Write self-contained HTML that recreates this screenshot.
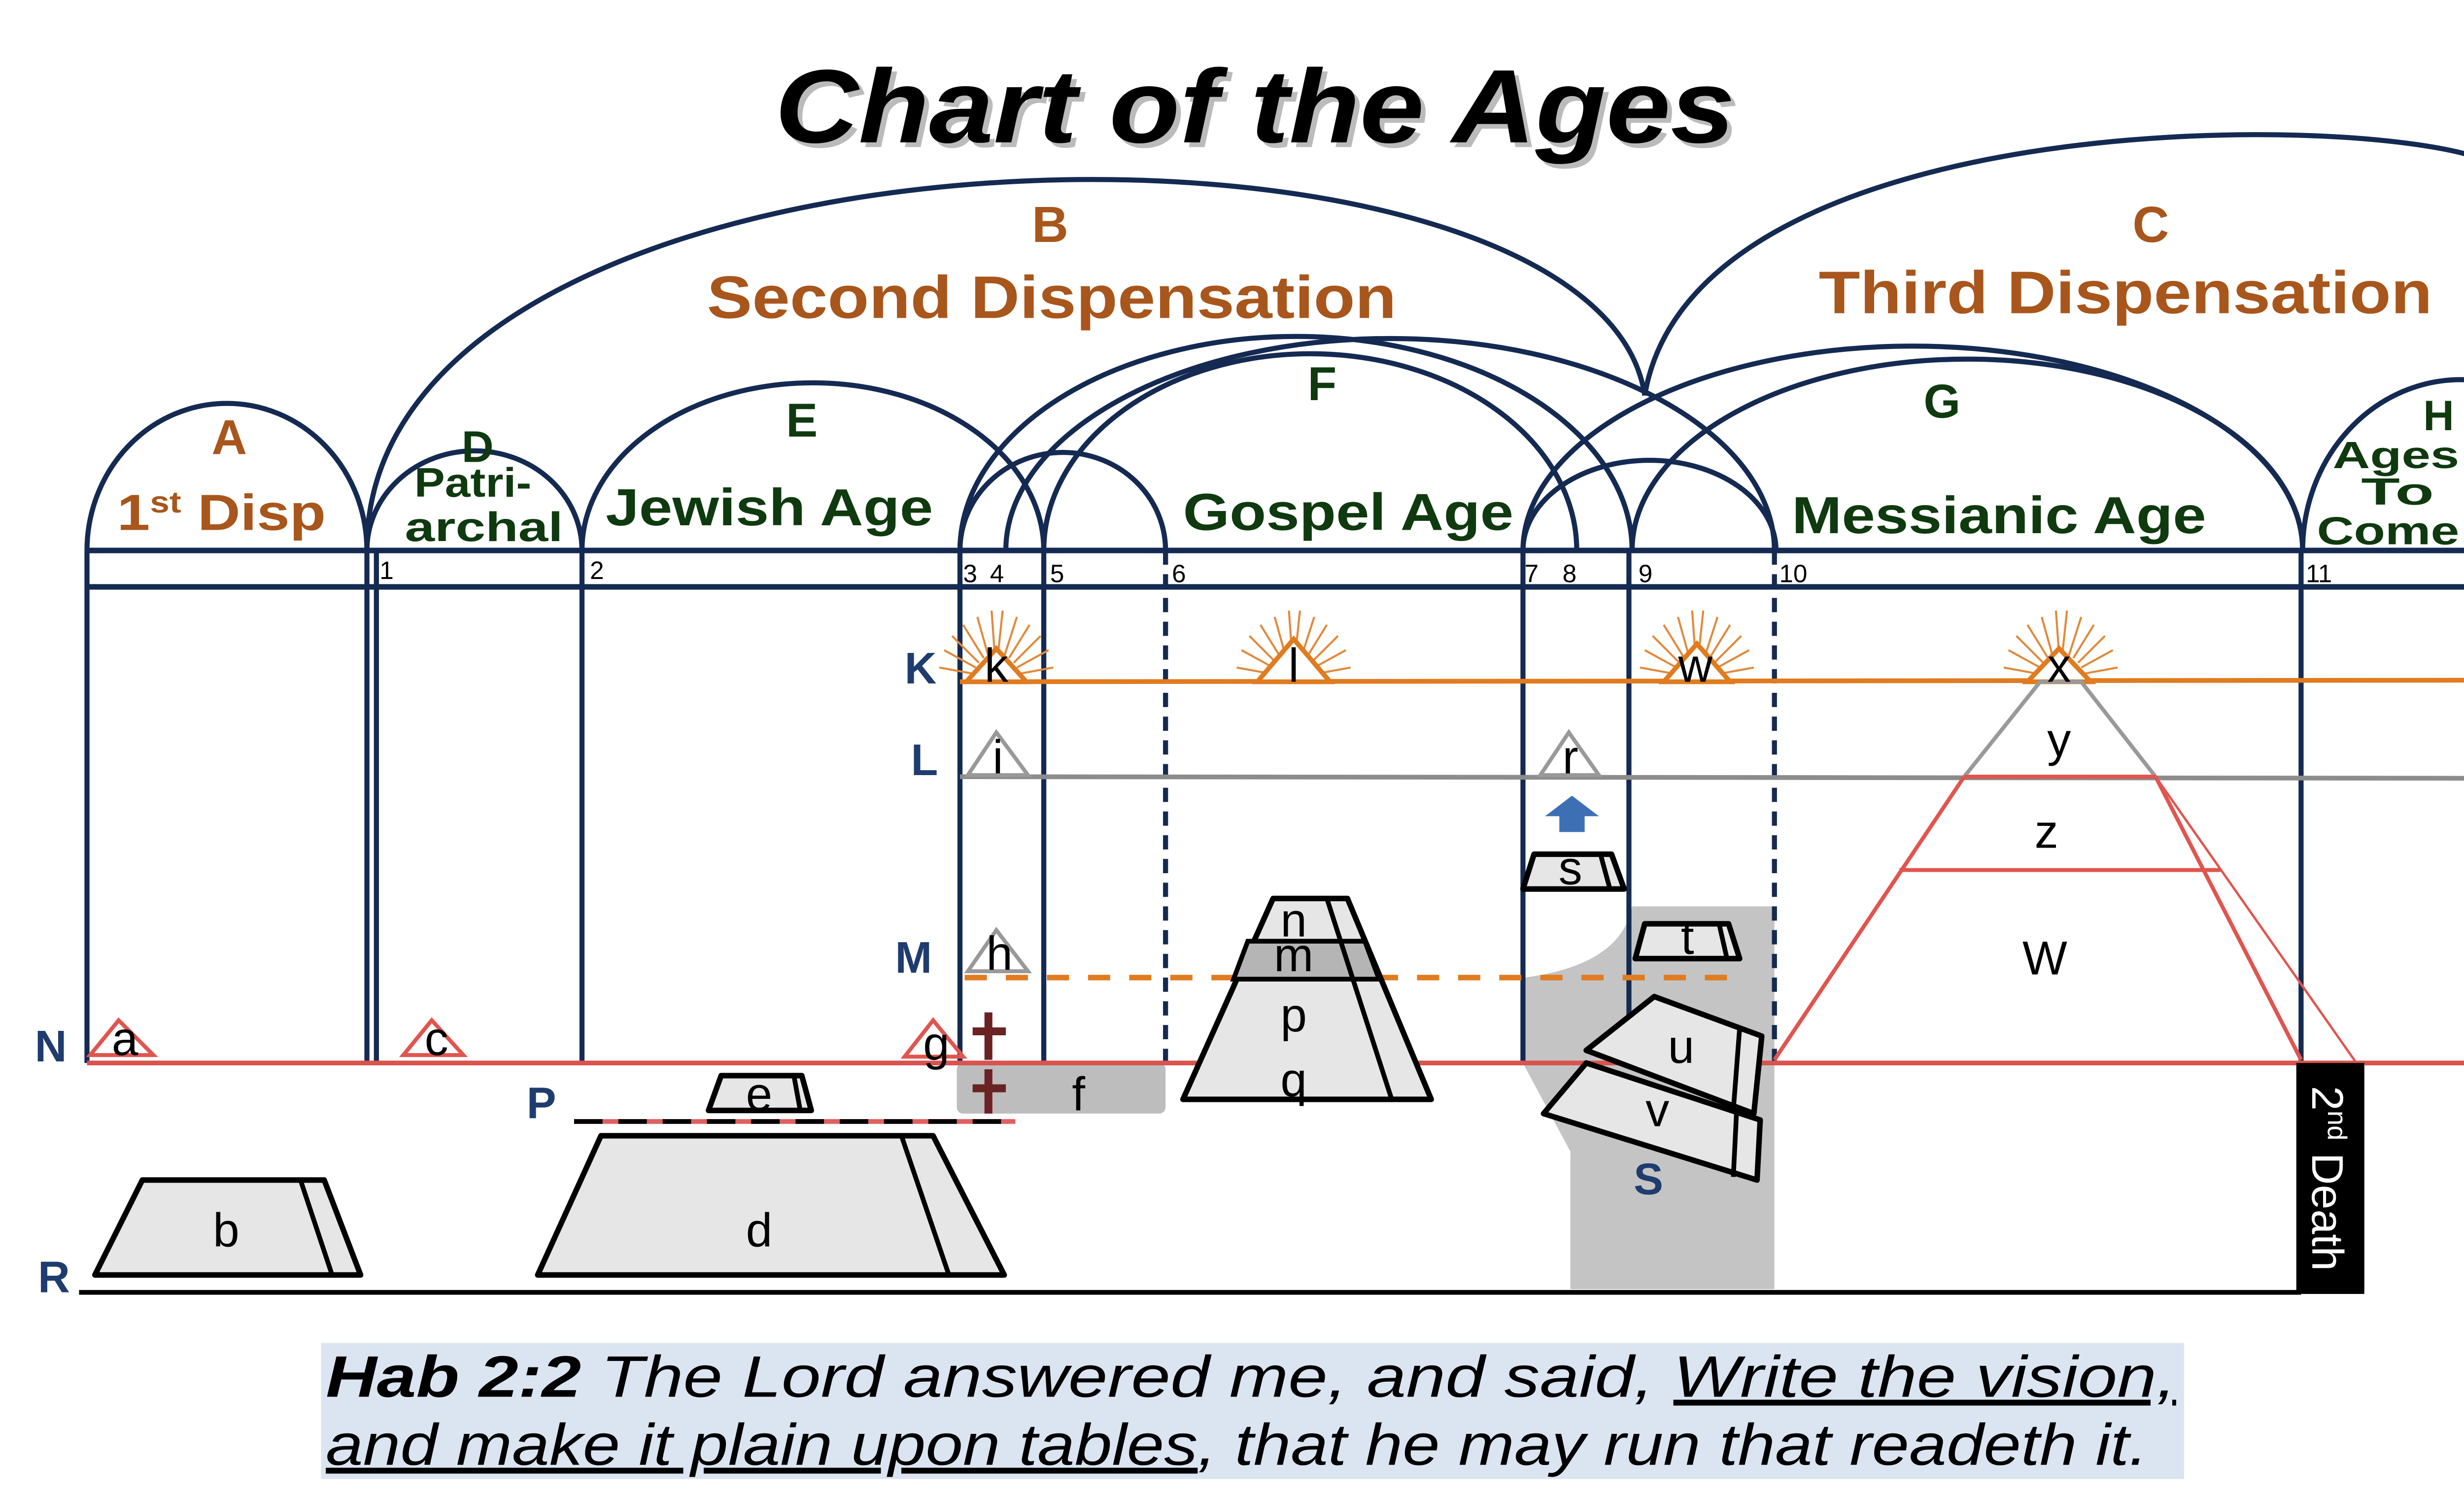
<!DOCTYPE html>
<html><head><meta charset="utf-8"><style>
html,body{margin:0;padding:0;background:#fff;}
svg{display:block;}
text{font-family:"Liberation Sans",sans-serif;}
</style></head><body>
<svg width="5032" height="3040" viewBox="0 0 1568 947" preserveAspectRatio="none" xmlns="http://www.w3.org/2000/svg">
<defs>
<g id="sun" stroke="#e08a3c" stroke-width="1.3">
<line x1="-14" y1="-2" x2="-36" y2="-6"/><line x1="-13" y1="-6" x2="-33" y2="-17"/><line x1="-11" y1="-9" x2="-28" y2="-26"/><line x1="-8" y1="-12" x2="-21" y2="-33"/><line x1="-5" y1="-13" x2="-12" y2="-38"/><line x1="-1" y1="-14" x2="-3" y2="-42"/><line x1="1" y1="-14" x2="4" y2="-42"/><line x1="5" y1="-13" x2="13" y2="-38"/><line x1="8" y1="-12" x2="21" y2="-33"/><line x1="11" y1="-9" x2="28" y2="-26"/><line x1="13" y1="-6" x2="33" y2="-17"/><line x1="14" y1="-2" x2="36" y2="-6"/>
</g>
</defs>
<rect width="1568" height="947" fill="#fff"/>
<text x="493" y="93" font-size="66" font-weight="bold" font-style="italic" fill="#bbb" textLength="607" lengthAdjust="spacingAndGlyphs">Chart of the Ages</text>
<text x="490" y="90" font-size="66" font-weight="bold" font-style="italic" fill="#000" textLength="607" lengthAdjust="spacingAndGlyphs">Chart of the Ages</text>

<rect x="605" y="672" width="132" height="32" rx="4" fill="#bdbdbd"/>
<path d="M1032,573 L1122,573 L1122,815 L993,815 L993,728 L964,674 L964,618 Q1025,610 1032,573 Z" fill="#c4c4c4"/>

<g fill="none" stroke="#142a52" stroke-width="3.2">
<path d="M232,345 C236,60 1010,50 1040,250"/>
<path d="M1040,250 C1070,70 1480,70 1568,100"/>
<path d="M55,348 A88.5,93 0 0 1 232,348"/>
<path d="M232,348 A68,63 0 0 1 368,348"/>
<path d="M368,348 A146,106 0 0 1 660,348"/>
<path d="M607,348 A65,62 0 0 1 737,348"/>
<path d="M607,348 A212,135 0 0 1 1032,348"/>
<path d="M636,348 A243,134 0 0 1 1122,348"/>
<path d="M660,348 A168,124 0 0 1 997,348"/>
<path d="M963,348 A80,57 0 0 1 1123,348"/>
<path d="M963,348 A246,129 0 0 1 1456,348"/>
<path d="M1032,348 A212,121 0 0 1 1456,348"/>
<path d="M1456,348 A100,108 0 0 1 1656,348"/>
<line x1="55" y1="348" x2="1568" y2="348" stroke-width="3.5"/>
<line x1="55" y1="371" x2="1568" y2="371" stroke-width="3.5"/>
<line x1="55" y1="348" x2="55" y2="672"/>
<line x1="232" y1="348" x2="232" y2="672"/>
<line x1="238" y1="348" x2="238" y2="672"/>
<line x1="368" y1="348" x2="368" y2="672"/>
<line x1="607" y1="348" x2="607" y2="672"/>
<line x1="660" y1="348" x2="660" y2="672"/>
<line x1="737" y1="348" x2="737" y2="672" stroke-dasharray="9,6"/>
<line x1="963" y1="348" x2="963" y2="672"/>
<line x1="1030" y1="348" x2="1030" y2="672"/>
<line x1="1122" y1="348" x2="1122" y2="672" stroke-dasharray="9,6"/>
<line x1="1455" y1="348" x2="1455" y2="672"/>
</g>
<g font-size="16" fill="#000">
<text x="240" y="366">1</text><text x="373" y="366">2</text><text x="609" y="368">3</text><text x="626" y="368">4</text><text x="664" y="368">5</text><text x="741" y="368">6</text><text x="964" y="368">7</text><text x="988" y="368">8</text><text x="1036" y="368">9</text><text x="1125" y="368">10</text><text x="1458" y="368">11</text>
</g>

<line x1="607" y1="431" x2="1560" y2="430" stroke="#e07b1f" stroke-width="3"/>
<line x1="607" y1="491" x2="1560" y2="492" stroke="#8c8c8c" stroke-width="3"/>
<line x1="610" y1="618" x2="1100" y2="618" stroke="#e07b1f" stroke-width="3.5" stroke-dasharray="14,12"/>
<line x1="55" y1="672" x2="1560" y2="672" stroke="#d9534f" stroke-width="3"/>
<line x1="50" y1="817" x2="1455" y2="817" stroke="#000" stroke-width="3"/>
<line x1="363" y1="709" x2="642" y2="709" stroke="#e06060" stroke-width="3"/>
<line x1="363" y1="709" x2="642" y2="709" stroke="#000" stroke-width="3" stroke-dasharray="18,10"/>

<g font-size="28" font-weight="bold" fill="#1f3c6e">
<text x="572" y="432">K</text><text x="576" y="490">L</text><text x="566" y="615">M</text><text x="22" y="671">N</text><text x="333" y="707">P</text><text x="24" y="817">R</text><text x="1033" y="755">S</text>
</g>

<use href="#sun" x="630" y="428"/><use href="#sun" x="818" y="428"/><use href="#sun" x="1073" y="428"/><use href="#sun" x="1303" y="428"/>
<g fill="#fff" stroke="#e07b1f" stroke-width="3">
<polygon points="611,431 630,410 649,431"/><polygon points="795,431 818,404 841,431"/><polygon points="1052,431 1073,407 1094,431"/>
</g>
<polygon points="1282,431 1302,410 1322,431" fill="#fff" stroke="#e07b1f" stroke-width="3"/>
<g fill="none" stroke="#999" stroke-width="2.5">
<polygon points="612,490 630,463 650,490"/><polygon points="974,490 992,463 1011,490"/><polygon points="612,614 630,588 650,614"/>
</g>
<g fill="none" stroke="#e0554f" stroke-width="2.5">
<polygon points="57,667 75,645 97,667"/><polygon points="255,667 273,645 293,667"/><polygon points="572,668 590,645 609,668"/>
</g>
<g stroke="#6b2222" stroke-width="5">
<line x1="625" y1="640" x2="625" y2="670"/><line x1="615" y1="652" x2="636" y2="652"/>
<line x1="625" y1="676" x2="625" y2="704"/><line x1="615" y1="688" x2="636" y2="688"/>
</g>
<polygon points="994,503 1011,516 1002,516 1002,526 986,526 986,516 977,516" fill="#3d6fb4"/>

<g fill="none" stroke-width="2.5">
<polyline points="1122,670 1242,491" stroke="#e0554f"/>
<polyline points="1363,491 1455,670" stroke="#e0554f"/>
<line x1="1363" y1="491" x2="1490" y2="672" stroke="#e0554f" stroke-width="1.5"/>
<polyline points="1242,491 1290,431 1316,431 1363,491" stroke="#999"/>
<line x1="1242" y1="491" x2="1363" y2="491" stroke="#e0554f"/>
<line x1="1201" y1="550" x2="1404" y2="550" stroke="#e0554f"/>
</g>

<g fill="#e6e6e6" stroke="#000" stroke-width="3.5" stroke-linejoin="round">
<polygon points="60,806 228,806 205,746 90,746"/>
<polygon points="340,806 635,806 590,718 380,718"/>
<polygon points="448,702 513,702 507,680 456,680"/>
<polygon points="963,562 1027,562 1019,540 970,540"/>
<polygon points="1034,606 1100,606 1093,584 1040,584"/>
<polygon points="748,695 905,695 852,568 805,568"/>
<polygon points="1003,664 1046,630 1114,655 1109,704"/>
<polygon points="976,704 1003,672 1113,708 1111,746"/>
</g>
<polygon points="789,595 863,595 872,619 780,619" fill="#b5b5b5" stroke="#000" stroke-width="3"/>
<g stroke="#000" stroke-width="3" fill="none">
<line x1="190" y1="746" x2="210" y2="806"/><line x1="570" y1="718" x2="600" y2="806"/>
<line x1="502" y1="680" x2="506" y2="702"/><line x1="1012" y1="540" x2="1018" y2="562"/><line x1="1087" y1="584" x2="1092" y2="606"/>
<line x1="839" y1="568" x2="880" y2="695"/><line x1="1100" y1="650" x2="1096" y2="702"/><line x1="1098" y1="704" x2="1096" y2="744"/>
</g>

<g font-size="30" fill="#000" text-anchor="middle">
<text x="630" y="431">k</text><text x="818" y="431">l</text><text x="1072" y="431">w</text><text x="1302" y="431">x</text>
<text x="631" y="489">i</text><text x="993" y="489">r</text><text x="1302" y="478">y</text><text x="1294" y="536">z</text><text x="1293" y="616">W</text>
<text x="632" y="613">h</text><text x="993" y="559">s</text><text x="1067" y="603">t</text>
<text x="79" y="667">a</text><text x="276" y="667">c</text><text x="592" y="670">g</text><text x="682" y="702">f</text>
<text x="818" y="592">n</text><text x="818" y="614">m</text><text x="818" y="652">p</text><text x="818" y="693">q</text>
<text x="1063" y="672">u</text><text x="1048" y="712">v</text>
<text x="480" y="702">e</text><text x="143" y="788">b</text><text x="480" y="788">d</text>
</g>

<rect x="1452" y="672" width="43" height="146" fill="#000"/>
<text transform="translate(1462,745) rotate(90)" font-size="28" fill="#fff" text-anchor="middle">2<tspan font-size="17" dy="-10">nd</tspan><tspan dy="10"> Death</tspan></text>

<g font-weight="bold">
<g fill="#a8561c">
<text x="145" y="287" font-size="31" text-anchor="middle">A</text>
<text x="74" y="335" font-size="32" textLength="132" lengthAdjust="spacingAndGlyphs">1<tspan font-size="19" dy="-11">st</tspan><tspan dy="11"> Disp</tspan></text>
<text x="664" y="153" font-size="32" text-anchor="middle">B</text>
<text x="447" y="201" font-size="38" textLength="436" lengthAdjust="spacingAndGlyphs">Second Dispensation</text>
<text x="1360" y="153" font-size="32" text-anchor="middle">C</text>
<text x="1150" y="198" font-size="38" textLength="388" lengthAdjust="spacingAndGlyphs">Third Dispensation</text>
</g>
<g fill="#0f3a0f">
<text x="302" y="292" font-size="28" text-anchor="middle">D</text>
<text x="262" y="314" font-size="26" textLength="74" lengthAdjust="spacingAndGlyphs">Patri-</text>
<text x="256" y="342" font-size="26" textLength="100" lengthAdjust="spacingAndGlyphs">archal</text>
<text x="507" y="276" font-size="30" text-anchor="middle">E</text>
<text x="383" y="332" font-size="33" textLength="207" lengthAdjust="spacingAndGlyphs">Jewish Age</text>
<text x="836" y="253" font-size="30" text-anchor="middle">F</text>
<text x="748" y="335" font-size="33" textLength="209" lengthAdjust="spacingAndGlyphs">Gospel Age</text>
<text x="1228" y="264" font-size="30" text-anchor="middle">G</text>
<text x="1133" y="337" font-size="33" textLength="262" lengthAdjust="spacingAndGlyphs">Messianic Age</text>
<text x="1542" y="272" font-size="27" text-anchor="middle">H</text>
<text x="1475" y="296" font-size="24" textLength="80" lengthAdjust="spacingAndGlyphs">Ages</text>
<text x="1493" y="319" font-size="24" textLength="46" lengthAdjust="spacingAndGlyphs">To</text>
<text x="1465" y="344" font-size="25" textLength="90" lengthAdjust="spacingAndGlyphs">Come</text>
</g>
</g>

<rect x="203" y="849" width="1178" height="86" fill="#dbe5f1"/>
<g font-size="37" font-style="italic" fill="#000">
<text x="206" y="883" textLength="1170" lengthAdjust="spacingAndGlyphs"><tspan font-weight="bold">Hab 2:2</tspan>  The Lord answered me, and said, <tspan text-decoration="underline">Write the vision,</tspan></text>
<text x="206" y="926" textLength="1152" lengthAdjust="spacingAndGlyphs"><tspan text-decoration="underline">and make it plain upon tables</tspan>, that he may run that readeth it.</text>
</g>
</svg>
</body></html>
